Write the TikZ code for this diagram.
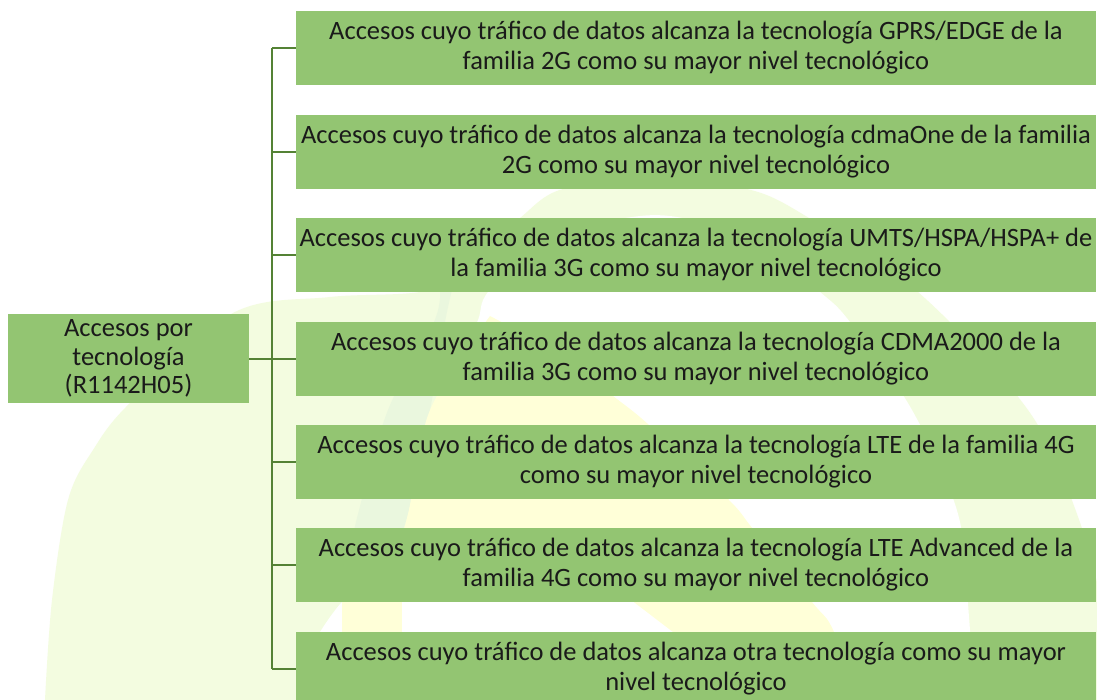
\documentclass[tikz,border=0pt]{standalone}
\usepackage{fontspec}
\setmainfont{Carlito}
\definecolor{boxfill}{HTML}{93C572}
\definecolor{linegreen}{HTML}{548235}
\definecolor{wmpale}{HTML}{F3FCE0}
\definecolor{wmyellow}{HTML}{FFFFD8}
\definecolor{wmstripe}{HTML}{EAF7DE}
\definecolor{txt}{HTML}{1A1A1A}
\begin{document}
\begin{tikzpicture}[x=1pt,y=-1pt,
  leafbox/.style={fill=boxfill, draw=none, minimum width=800pt, minimum height=74pt,
    inner sep=0pt, align=center, text=txt, font=\fontsize{26.5}{30}\selectfont},
  rootbox/.style={fill=boxfill, draw=none, minimum width=241pt, minimum height=89pt,
    inner sep=0pt, align=center, text=txt, font=\fontsize{26.5}{28.5}\selectfont},
  link/.style={draw=linegreen, line width=2pt}]
\useasboundingbox (0,0) rectangle (1097,700);
\fill[white] (0,0) rectangle (1097,700);
% watermark
\fill[wmpale] (40,720) -- plot[smooth, tension=0.55] coordinates {(45,700) (52,600) (68,500) (93,450) (130,403) (233,313) (330,297) (430,290) (480,255) (520,218) (563,189) (655,182) (747,189) (809,218) (918,292) (1028,410) (1077,514) (1105,620) (1115,720)} -- cycle;
\fill[white] (305,720) -- plot[smooth, tension=0.55] coordinates {(320,632) (342,602) (380,570) (420,514) (440,410) (460,360) (478,320) (488,292) (540,240) (640,216) (700,222) (760,245) (820,292) (850,322) (912,410) (958,514) (969,617) (975,720)} -- cycle;
\fill[wmstripe] plot[smooth, tension=0.55] coordinates {(440,290) (434,322) (388,410) (358,514) (352,545)} -- plot[smooth, tension=0.55] coordinates {(395,545) (408,514) (430,410) (445,322) (452,290)} -- cycle;
\fill[wmyellow] (490,316) -- plot[smooth, tension=0.55] coordinates {(490,316) (560,355) (613,396) (649,425) (728,499) (753,529) (812,602) (834,632) (865,720)} -- (340,720) -- (342,632) -- plot[smooth, tension=0.55] coordinates {(342,602) (355,575) (395,545) (408,514) (430,410) (490,316)} -- cycle;
\fill[white] (402,565) -- (585,565) -- (788,720) -- (402,720) -- cycle;
% nodes
\node[rootbox] (root) at (128.5,358.5) {Accesos por\\tecnología\\(R1142H05)};
\node[leafbox] (l1) at (696,48) {Accesos cuyo tráfico de datos alcanza la tecnología GPRS/EDGE de la\\familia 2G como su mayor nivel tecnológico};
\node[leafbox] (l2) at (696,152) {Accesos cuyo tráfico de datos alcanza la tecnología cdmaOne de la familia\\2G como su mayor nivel tecnológico};
\node[leafbox] (l3) at (696,255) {Accesos cuyo tráfico de datos alcanza la tecnología UMTS/HSPA/HSPA+ de\\la familia 3G como su mayor nivel tecnológico};
\node[leafbox] (l4) at (696,359) {Accesos cuyo tráfico de datos alcanza la tecnología CDMA2000 de la\\familia 3G como su mayor nivel tecnológico};
\node[leafbox] (l5) at (696,462) {Accesos cuyo tráfico de datos alcanza la tecnología LTE de la familia 4G\\como su mayor nivel tecnológico};
\node[leafbox] (l6) at (696,565) {Accesos cuyo tráfico de datos alcanza la tecnología LTE Advanced de la\\familia 4G como su mayor nivel tecnológico};
\node[leafbox] (l7) at (696,669) {Accesos cuyo tráfico de datos alcanza otra tecnología como su mayor\\nivel tecnológico};
% connectors
\coordinate (tx) at (272,0);
\draw[link] (l1.west -| tx) -- (l7.west -| tx);
\draw[link] (root.east) -- (root.east -| tx);
\foreach \n in {l1,l2,l3,l4,l5,l6,l7}{
  \draw[link] (\n.west -| tx) -- (\n.west);
}
\end{tikzpicture}
\end{document}
